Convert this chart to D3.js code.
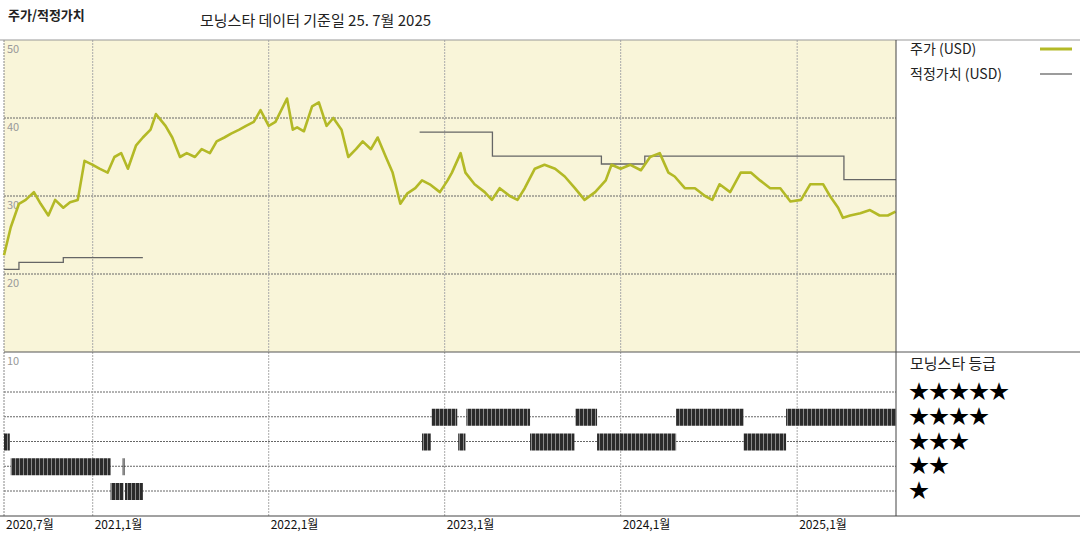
<!DOCTYPE html>
<meta charset="utf-8">
<script src="https://d3js.org/d3.v7.min.js"></script>
<style>
body { margin: 0; background: #fff; }
text { font-family: "Noto Sans CJK KR", "DejaVu Sans", sans-serif; }
</style>
<div id="chart"></div>
<script>
  // Price (USD)
  var priceDates = ["2020-07-01","2020-07-15","2020-08-01","2020-08-15","2020-09-01","2020-09-15","2020-10-01","2020-10-15","2020-11-01","2020-11-15","2020-12-01","2020-12-15",
    "2021-01-01","2021-01-15","2021-02-01","2021-02-15","2021-03-01","2021-03-15","2021-04-01","2021-04-15","2021-05-01","2021-05-12","2021-06-01","2021-06-15","2021-07-01","2021-07-15","2021-08-01","2021-08-15","2021-09-01","2021-09-15","2021-10-01","2021-10-15","2021-11-01","2021-11-15","2021-12-01","2021-12-15",
    "2022-01-01","2022-01-15","2022-02-08","2022-02-20","2022-03-01","2022-03-15","2022-04-01","2022-04-15","2022-05-01","2022-05-15","2022-06-01","2022-06-15","2022-07-01","2022-07-15","2022-08-01","2022-08-15","2022-09-01","2022-09-15","2022-10-01","2022-10-15","2022-11-01","2022-11-15","2022-12-01","2022-12-22",
    "2023-01-07","2023-01-16","2023-02-03","2023-02-13","2023-03-04","2023-03-25","2023-04-09","2023-04-25","2023-05-16","2023-06-01","2023-06-16","2023-07-07","2023-07-27","2023-08-18","2023-09-07","2023-09-28","2023-10-18","2023-11-09","2023-12-01","2023-12-13",
    "2024-01-01","2024-01-21","2024-02-12","2024-03-02","2024-03-22","2024-04-09","2024-04-22","2024-05-13","2024-06-03","2024-06-24","2024-07-09","2024-07-24","2024-08-15","2024-09-06","2024-09-27","2024-10-16","2024-11-06","2024-11-27","2024-12-18",
    "2025-01-09","2025-01-28","2025-02-24","2025-03-10","2025-03-27","2025-04-06","2025-04-21","2025-05-12","2025-06-01","2025-06-21","2025-07-08","2025-07-24"];
  var priceValues = [22.4,26,29,29.5,30.5,29,27.5,29.5,28.5,29.2,29.5,34.5,
    34,33.5,33,35,35.5,33.5,36.5,37.5,38.5,40.5,39,37.5,35,35.5,35,36,35.5,37,37.5,38,38.5,39,39.5,41,
    39,39.5,42.5,38.5,38.8,38.3,41.5,42,39,40,38.5,35,36,37,36,37.5,35,33,29,30.3,31,32,31.5,30.5,
    32,33,35.5,33,31.5,30.5,29.5,31,30,29.5,31,33.5,34,33.5,32.5,31,29.5,30.5,32,34,
    33.5,34,33.3,35,35.5,33,32.5,31,31,30,29.5,31.5,30.5,33,33,32,31,31,29.3,
    29.5,31.5,31.5,30,28.5,27.2,27.5,27.8,28.2,27.5,27.5,28];

  // Fair value (USD), step segments
  var fairSegments = [
    [["2020-07-01",20.6],["2020-08-01",20.6],["2020-08-01",21.5],["2020-11-01",21.5],["2020-11-01",22.1],["2021-04-15",22.1]],
    [["2022-11-10",38.2],["2023-04-10",38.2],["2023-04-10",35.1],["2023-11-22",35.1],["2023-11-22",34.1],["2024-02-20",34.1],["2024-02-20",35.1],["2025-04-08",35.1],["2025-04-08",32.1],["2025-07-25",32.1]]
  ];

  // Morningstar rating periods
  var ratingStart = ["2020-07-01","2020-07-15","2021-03-04","2021-02-07","2021-03-09","2022-11-15","2022-12-05","2023-01-29","2023-02-15","2023-06-27","2023-09-29","2023-11-13","2024-04-25","2024-09-12","2024-12-09"];
  var ratingEnd   = ["2020-07-13","2021-02-07","2021-03-07","2021-03-06","2021-04-15","2022-12-03","2023-01-27","2023-02-13","2023-06-27","2023-09-27","2023-11-13","2024-04-25","2024-09-12","2024-12-09","2025-07-25"];
  var ratingValue = [3,2,2,1,1,3,4,3,4,3,4,3,4,3,4];

  var priceTicks = [50, 40, 30, 20, 10];
  var yearTicks = ["2020-07-01","2021-01-01","2022-01-01","2023-01-01","2024-01-01","2025-01-01"];
  var yearLabels = ["2020,7월","2021,1월","2022,1월","2023,1월","2024,1월","2025,1월"];

  var parse = d3.timeParse("%Y-%m-%d");
  var W = 1080, H = 540;
  var pLeft = 4, pRight = 896, pTop = 40, pMid = 352, pBottom = 516;

  var svg = d3.select("#chart").append("svg").attr("width", W).attr("height", H);

  var x = d3.scaleTime().domain([parse("2020-07-01"), parse("2025-07-25")]).range([pLeft, pRight]);
  var y = d3.scaleLinear().domain([10, 50]).range([pMid, pTop]);
  var yr = d3.scalePoint().domain([5, 4, 3, 2, 1]).range([392, 491]);

  var defs = svg.append("defs");
  var pat = defs.append("pattern").attr("id", "stripe").attr("width", 4).attr("height", 10)
    .attr("patternUnits", "userSpaceOnUse");
  pat.append("rect").attr("width", 4).attr("height", 10).attr("fill", "#2b2b2b");
  pat.append("rect").attr("x", 3).attr("width", 1).attr("height", 10).attr("fill", "#8a8a8a");

  // Background of price panel
  svg.append("rect").attr("x", pLeft).attr("y", pTop).attr("width", pRight - pLeft).attr("height", pMid - pTop)
    .attr("fill", "#f9f5d9");

  // Titles
  svg.append("text").attr("x", 8).attr("y", 20).attr("font-size", 13).attr("font-weight", "bold")
    .attr("fill", "#222").text("주가/적정가치");
  svg.append("text").attr("x", 200).attr("y", 26).attr("font-size", 15).attr("fill", "#222")
    .text("모닝스타 데이터 기준일 25. 7월 2025");

  // Horizontal grid
  svg.append("g").selectAll("line").data([40, 30, 20]).enter().append("line")
    .attr("x1", pLeft).attr("x2", pRight).attr("y1", d => y(d)).attr("y2", d => y(d))
    .attr("stroke", "#666").attr("stroke-dasharray", "2,1");
  svg.append("g").selectAll("line").data(yr.domain()).enter().append("line")
    .attr("x1", pLeft).attr("x2", pRight).attr("y1", d => yr(d)).attr("y2", d => yr(d))
    .attr("stroke", "#666").attr("stroke-dasharray", "2,1");

  // Vertical grid
  svg.append("g").selectAll("line").data(yearTicks.slice(1)).enter().append("line")
    .attr("x1", d => x(parse(d))).attr("x2", d => x(parse(d))).attr("y1", pTop).attr("y2", pBottom)
    .attr("stroke", "#aaa").attr("stroke-dasharray", "2,1");
  svg.append("line").attr("x1", pLeft).attr("x2", pLeft).attr("y1", pTop).attr("y2", pBottom)
    .attr("stroke", "#888").attr("stroke-dasharray", "2,1");

  // Y tick labels
  svg.append("g").selectAll("text").data(priceTicks).enter().append("text")
    .attr("x", 7).attr("y", d => y(d) + 13).attr("font-size", 11).attr("fill", "#999")
    .text(d => d);

  // Fair value
  var line = d3.line().x(d => x(parse(d[0]))).y(d => y(d[1]));
  svg.append("g").selectAll("path").data(fairSegments).enter().append("path")
    .attr("d", line).attr("fill", "none").attr("stroke", "#666").attr("stroke-width", 1.3);

  // Price
  var priceData = priceDates.map((d, i) => [d, priceValues[i]]);
  svg.append("path").datum(priceData).attr("d", line).attr("fill", "none")
    .attr("stroke", "#b3b926").attr("stroke-width", 2.6).attr("stroke-linejoin", "round");

  // Rating bars
  svg.append("g").selectAll("rect").data(ratingValue).enter().append("rect")
    .attr("x", (d, i) => x(parse(ratingStart[i])))
    .attr("width", (d, i) => Math.max(2, x(parse(ratingEnd[i])) - x(parse(ratingStart[i]))))
    .attr("y", d => yr(d) - 8).attr("height", 17)
    .attr("fill", "url(#stripe)");

  // Frame lines
  svg.append("line").attr("x1", 0).attr("x2", W).attr("y1", pTop).attr("y2", pTop).attr("stroke", "#999");
  svg.append("line").attr("x1", pLeft).attr("x2", W).attr("y1", pMid).attr("y2", pMid).attr("stroke", "#555");
  svg.append("line").attr("x1", 0).attr("x2", W).attr("y1", pBottom).attr("y2", pBottom).attr("stroke", "#444");
  svg.append("line").attr("x1", pRight).attr("x2", pRight).attr("y1", pTop).attr("y2", pBottom).attr("stroke", "#444");

  // X labels
  svg.append("g").selectAll("text").data(yearTicks).enter().append("text")
    .attr("x", d => x(parse(d)) + 2).attr("y", 529).attr("font-size", 12).attr("fill", "#111")
    .text((d, i) => yearLabels[i]);

  // Legend
  var lg = svg.append("g");
  lg.append("text").attr("x", 910).attr("y", 54).attr("font-size", 14).attr("fill", "#222").text("주가 (USD)");
  lg.append("line").attr("x1", 1040).attr("x2", 1072).attr("y1", 49).attr("y2", 49)
    .attr("stroke", "#b3b926").attr("stroke-width", 3);
  lg.append("text").attr("x", 910).attr("y", 79).attr("font-size", 14).attr("fill", "#222").text("적정가치 (USD)");
  lg.append("line").attr("x1", 1040).attr("x2", 1072).attr("y1", 74).attr("y2", 74)
    .attr("stroke", "#666").attr("stroke-width", 1.3);

  lg.append("text").attr("x", 910).attr("y", 369).attr("font-size", 15).attr("fill", "#222").text("모닝스타 등급");
  lg.selectAll(".stars").data(yr.domain()).enter().append("text")
    .attr("x", 909).attr("y", d => yr(d) + 7).attr("font-size", 20).attr("fill", "#000")
    .attr("font-family", "DejaVu Sans")
    .text(d => "★".repeat(d));
</script>
